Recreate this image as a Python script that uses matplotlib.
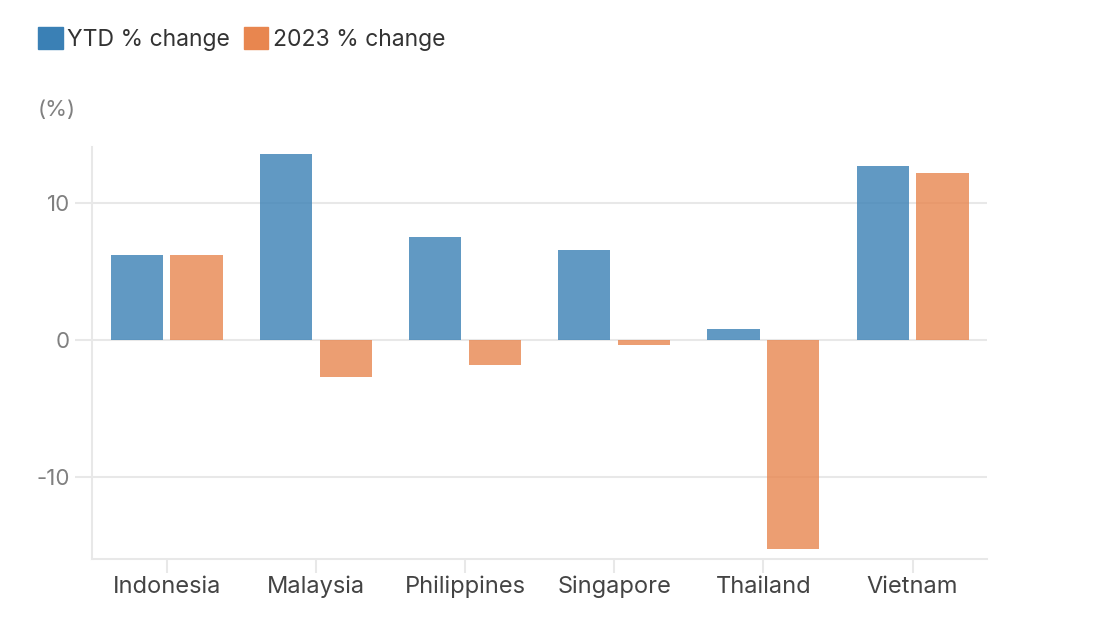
import numpy as np
import matplotlib.pyplot as plt
from matplotlib.patches import Patch

plt.rcParams['font.family'] = ['Inter', 'DejaVu Sans']

countries = ['Indonesia', 'Malaysia', 'Philippines', 'Singapore', 'Thailand', 'Vietnam']
ytd_change = [6.2, 13.6, 7.5, 6.6, 0.8, 12.7]
change_2023 = [6.2, -2.7, -1.8, -0.35, -15.2, 12.2]
yticks = [-10, 0, 10]

blue = '#3a80b5'
orange = '#e8864f'
grid_color = '#e8e8e8'

fig = plt.figure(figsize=(11.08, 6.24), dpi=100)
ax = fig.add_axes([0.083, 0.104, 0.808, 0.66])

x = np.arange(len(countries))
bar_width = 0.35
ax.bar(x - 0.2, ytd_change, width=bar_width, color=blue, alpha=0.8, zorder=3)
ax.bar(x + 0.2, change_2023, width=bar_width, color=orange, alpha=0.8, zorder=3)

ax.set_xlim(-0.5, 5.5)
ax.set_ylim(-15.95, 14.06)

ax.set_yticks(yticks)
ax.set_yticklabels([str(t) for t in yticks])
ax.set_xticks(x)
ax.set_xticklabels(countries)

# light gridlines
for t in yticks:
    ax.axhline(t, color=grid_color, lw=1.5, zorder=1)

for side in ['top', 'right']:
    ax.spines[side].set_visible(False)
for side in ['left', 'bottom']:
    ax.spines[side].set_color(grid_color)
    ax.spines[side].set_linewidth(1.5)

ax.tick_params(axis='y', length=12, width=1.5, color=grid_color,
               labelsize=16, labelcolor='#808080', pad=4)
ax.tick_params(axis='x', length=10, width=1.5, color=grid_color,
               labelsize=17, labelcolor='#444444', pad=2)

# legend at top-left
handles = [Patch(color=blue, label='YTD % change'),
           Patch(color=orange, label='2023 % change')]
fig.legend(handles=handles, loc='upper left', bbox_to_anchor=(0.016, 0.989),
           ncol=2, frameon=False, fontsize=16.5, handlelength=1.07, handleheight=1.07,
           handletextpad=0.2, columnspacing=0.6, labelcolor='#333333')

fig.text(0.034, 0.823, '(%)', fontsize=16, color='#808080', va='center')

plt.savefig('out.png', dpi=100)
